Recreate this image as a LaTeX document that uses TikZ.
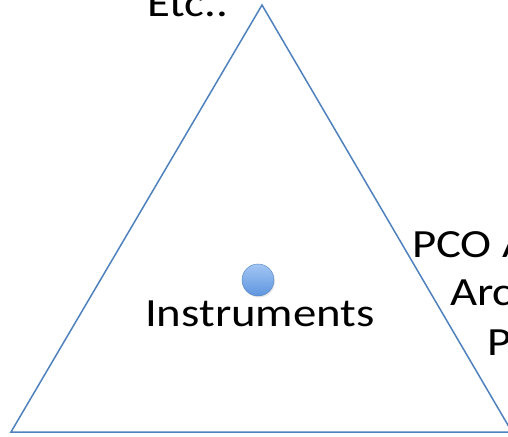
\documentclass[tikz,border=0pt]{standalone}
\usepackage{fontspec}
\setmainfont{Carlito}[FakeStretch=1.17]
\usetikzlibrary{shadows}

\definecolor{OfficeBlue}{HTML}{4F81BD}
\definecolor{DotTop}{HTML}{A3C6F4}
\definecolor{DotBottom}{HTML}{5E95DE}

\begin{document}
\begin{tikzpicture}[x=1pt,y=-1pt]
			\tikzstyle{LabelStyle} = [inner sep=0pt, anchor=base west, font=\fontsize{40}{49}\selectfont]
			\tikzstyle{EdgeStyle}  = [draw=OfficeBlue, line width=1.5pt, line join=miter]
			\tikzstyle{DotStyle}   = [circle, minimum size=32pt, inner sep=0pt, draw=OfficeBlue, top color=DotTop, bottom color=DotBottom, drop shadow={opacity=0.2, shadow xshift=1pt, shadow yshift=-1.5pt}]

			\useasboundingbox (0,0) rectangle (508,436);
			\coordinate (Top) at (262,5); \coordinate (Left) at (11,432); \coordinate (Right) at (512,432);
			\draw[EdgeStyle] (Top) -- (Left) -- (Right) -- cycle;

			\node[DotStyle] (Dot) at (258,280) {};
			\node[LabelStyle] (Instruments) at (145,326) {Instruments};
			\node[LabelStyle] (Etc) at (147,17) {Etc..};
			\node[LabelStyle] (PCO) at (412,257) {PCO A};
			\node[LabelStyle] (Arc) at (450,305) {Arc};
			\node[LabelStyle] (P) at (487,355) {P};
		\end{tikzpicture}
\end{document}
